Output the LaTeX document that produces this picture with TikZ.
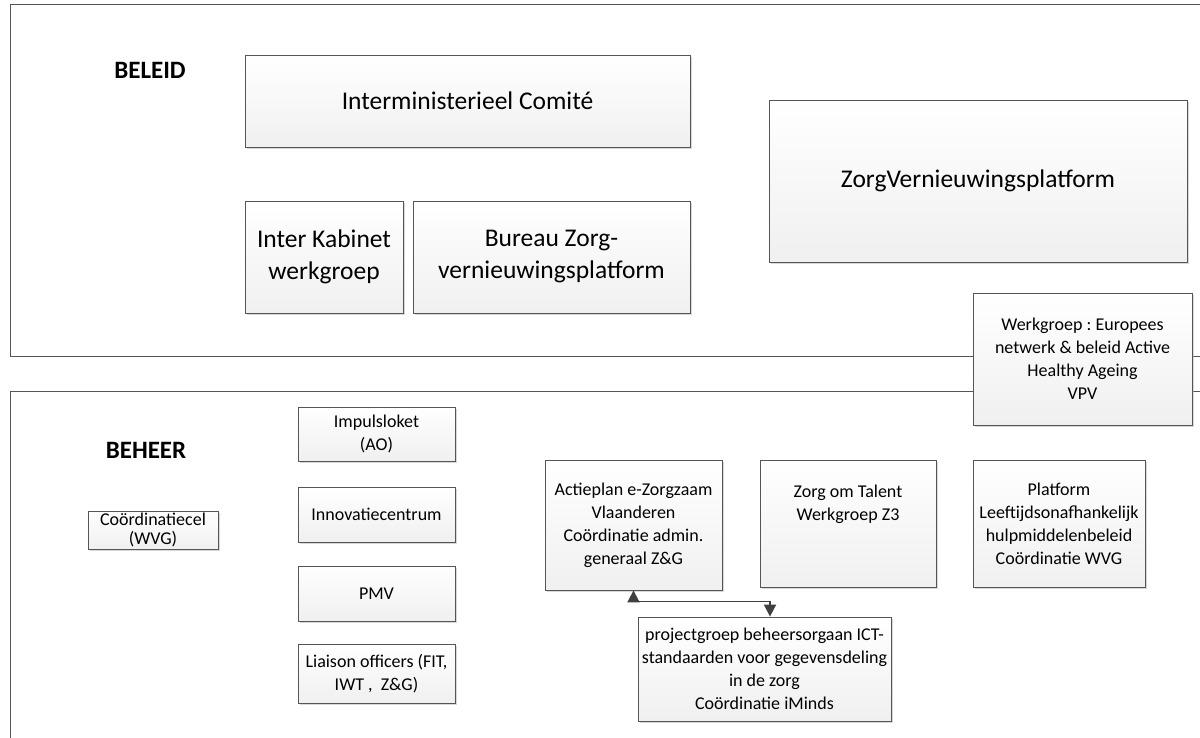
\documentclass[tikz,border=0pt]{standalone}
\usepackage{fontspec}
\setmainfont{Carlito}
\usetikzlibrary{arrows.meta,shadows}
\definecolor{boxline}{RGB}{85,85,85}
\definecolor{linkgray}{RGB}{64,64,64}
\frenchspacing

\begin{document}
\begin{tikzpicture}[x=1pt,y=-1pt,
  box/.style={draw=boxline,line width=0.8pt,top color=white,bottom color=black!6,
    drop shadow={shadow xshift=1.6pt,shadow yshift=-1.6pt,fill=black!30,opacity=.5},
    align=center,inner sep=2pt,font=\fontsize{18}{23}\selectfont},
  bigbox/.style={box,font=\fontsize{25.5}{32}\selectfont},
  area/.style={draw=boxline,line width=1pt},
  title/.style={font=\fontsize{25}{29}\selectfont\bfseries},
  link/.style={draw=linkgray,line width=1.8pt,{Triangle[length=12pt,width=12pt]}-{Triangle[length=12pt,width=12pt]}}]
\useasboundingbox (0,0) rectangle (1200,738);
\clip (0,0) rectangle (1200,738);

\draw[area] (10,5) rectangle (1220,356);
\draw[area] (10,391) rectangle (1220,760);

\node[title] (beleid) at (150,70) {BELEID};
\node[title] (beheer) at (146,450) {BEHEER};

\node[bigbox,minimum width=445pt,minimum height=92pt] (imc) at (467.5,101) {Interministerieel Comité};
\node[bigbox,minimum width=158pt,minimum height=112pt] (ikw) at (324,257) {Inter Kabinet\\werkgroep};
\node[bigbox,minimum width=277pt,minimum height=112pt] (bzvp) at (551.5,257) {Bureau Zorg-\\vernieuwingsplatform};
\node[bigbox,minimum width=418pt,minimum height=162pt] (zvp) at (978,181) {ZorgVernieuwingsplatform};
\node[box,minimum width=219pt,minimum height=132pt] (wg) at (1082.5,359) {Werkgroep : Europees\\netwerk \& beleid Active\\Healthy Ageing\\VPV};

\node[box,inner ysep=0pt,minimum width=130pt,minimum height=38pt,font=\fontsize{18}{19}\selectfont] (cel) at (153,530) {Coördinatiecel\\(WVG)};
\node[box,minimum width=157pt,minimum height=54pt] (impuls) at (376.5,434) {Impulsloket\\(AO)};
\node[box,minimum width=157pt,minimum height=55pt] (innov) at (376.5,514.5) {Innovatiecentrum};
\node[box,minimum width=157pt,minimum height=55pt] (pmv) at (376.5,593.5) {PMV};
\node[box,minimum width=157pt,minimum height=59pt] (liaison) at (376.5,673.5) {Liaison officers (FIT,\\IWT ,~~Z\&G)};

\node[box,minimum width=177pt,minimum height=130pt] (act) at (633.5,525) {Actieplan e-Zorgzaam\\Vlaanderen\\Coördinatie admin.\\generaal Z\&G};
\node[box,minimum width=176pt,minimum height=127pt,text depth=42pt] (talent) at (848,523.5) {Zorg om Talent\\Werkgroep Z3};
\node[box,minimum width=172pt,minimum height=127pt] (platform) at (1059,523.5) {Platform\\Leeftijdsonafhankelijk\\hulpmiddelenbeleid\\Coördinatie WVG};
\node[box,minimum width=253pt,minimum height=104pt] (proj) at (764.5,669) {projectgroep beheersorgaan ICT-\\standaarden voor gegevensdeling\\in de zorg\\Coördinatie iMinds};

\draw[link] (act.south) -- ++(0,11) -| ([xshift=5.5pt]proj.north);
\end{tikzpicture}
\end{document}
